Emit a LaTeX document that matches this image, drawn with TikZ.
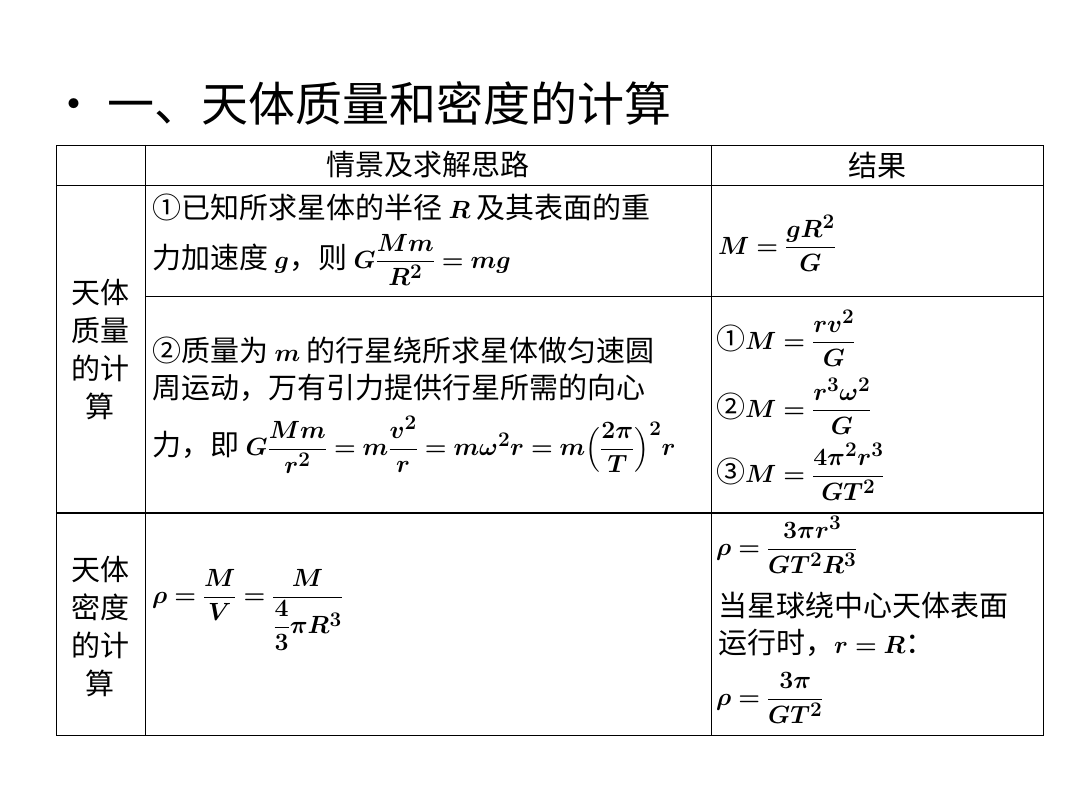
\documentclass[tikz,border=0pt]{standalone}
\usepackage{fontspec}
\usepackage{amsmath,bm}
\setmainfont{Liberation Serif}
\newfontfamily\cjk{Noto Sans CJK SC}
\newcommand{\B}[1]{\bm{#1}}
\begin{document}
\begin{tikzpicture}[x=1pt,y=-1pt,
  txt/.style={anchor=west,inner sep=0pt,font=\fontsize{29}{34}\selectfont\cjk},
  cell/.style={align=center,inner sep=0pt,font=\fontsize{29}{38}\selectfont\cjk},
  grid/.style={line width=0.8pt,black}]
\useasboundingbox (0,0) rectangle (1080,810);
\node[anchor=west,inner sep=0pt,font=\fontsize{47}{52}\selectfont\cjk] (title) at (50,103) {•\hspace{10pt}一、天体质量和密度的计算};
\draw[grid] (56,145) rectangle (1043,735);
\draw[grid] (145,145) -- (145,735);
\draw[grid] (711,145) -- (711,735);
\draw[grid] (56,185) -- (1043,185);
\draw[grid] (145,296) -- (1043,296);
\draw[grid,line width=1.2pt] (56,513) -- (1043,513);
\node[cell] (h1) at (428,165) {情景及求解思路};
\node[cell] (h2) at (877,165) {结果};
\node[cell] (l1) at (100,350) {天体\\质量\\的计\\算};
\node[cell] (l2) at (100,627) {天体\\密度\\的计\\算};
\node[txt] (a1) at (152,207) {①已知所求星体的半径 $\B{R}$ 及其表面的重};
\node[txt] (a2) at (152,260) {力加速度 $\B{g}$，则 $\B{G}\dfrac{\B{Mm}}{\B{R^2}}\B{=}\B{mg}$};
\node[txt] (r1) at (718,243) {$\B{M}\B{=}\dfrac{\B{gR^2}}{\B{G}}$};
\node[txt] (b1) at (152,350) {②质量为 $\B{m}$ 的行星绕所求星体做匀速圆};
\node[txt] (b2) at (152,388) {周运动，万有引力提供行星所需的向心};
\node[txt] (b3) at (152,445) {力，即 $\B{G}\dfrac{\B{Mm}}{\B{r^2}}\B{=}\B{m}\dfrac{\B{v^2}}{\B{r}}\B{=}\B{m\omega^2r}\B{=}\B{m}\Bigl(\dfrac{\B{2\pi}}{\B{T}}\Bigr)^{\B{2}}\B{r}$};
\node[txt] (r2) at (716,338) {①$\B{M}\B{=}\dfrac{\B{rv^2}}{\B{G}}$};
\node[txt] (r3) at (716,406) {②$\B{M}\B{=}\dfrac{\B{r^3\omega^2}}{\B{G}}$};
\node[txt] (r4) at (716,472) {③$\B{M}\B{=}\dfrac{\B{4\pi^2r^3}}{\B{GT^2}}$};
\node[txt] (c1) at (152,610) {$\B{\rho}\B{=}\dfrac{\B{M}}{\B{V}}\B{=}\dfrac{\B{M}}{\dfrac{\B{4}}{\B{3}}\B{\pi R^3}}$};
\node[txt] (d1) at (716,545) {$\B{\rho}\B{=}\dfrac{\B{3\pi r^3}}{\B{GT^2R^3}}$};
\node[txt] (d2) at (718,605) {当星球绕中心天体表面};
\node[txt] (d3) at (718,643) {运行时，$\B{r}\B{=}\B{R}$：};
\node[txt] (d4) at (716,698) {$\B{\rho}\B{=}\dfrac{\B{3\pi}}{\B{GT^2}}$};
\end{tikzpicture}
\end{document}
